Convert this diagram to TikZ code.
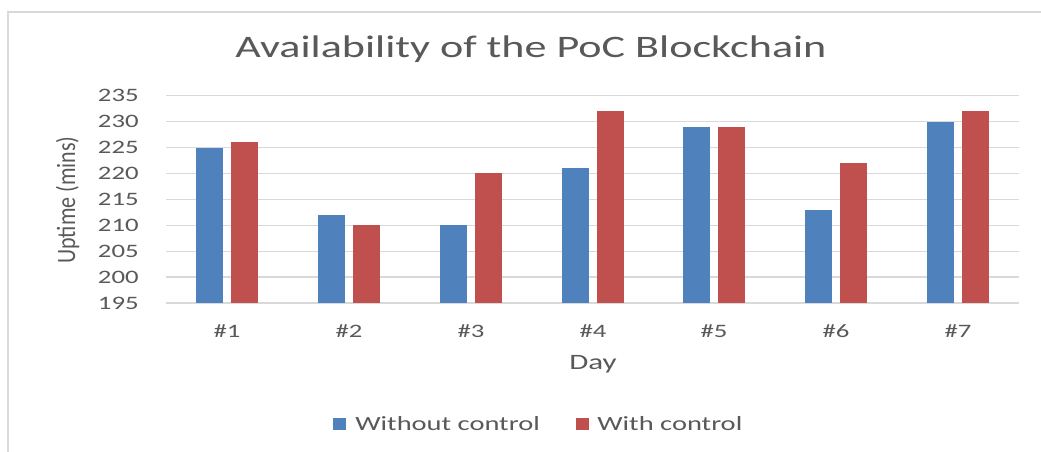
\documentclass[tikz,border=0pt]{standalone}
\usepackage{graphicx}
\usepackage{fontspec}
\setmainfont{Carlito}[FakeStretch=1.41]
\newfontfamily\uprightfont{Carlito}
\usepackage{tikz}
\usetikzlibrary{positioning}
\usepackage{xcolor}
\definecolor{avblue}{HTML}{4F81BD}
\definecolor{avred}{HTML}{C0504D}
\definecolor{avgrid}{HTML}{D9D9D9}
\definecolor{avtext}{HTML}{595959}
\tikzset{
  framebox/.style={draw=avgrid,line width=0.8pt},
  gridline/.style={draw=avgrid,line width=0.7pt},
  barnocontrol/.style={fill=avblue},
  barcontrol/.style={fill=avred},
  charttitle/.style={text=avtext,font=\fontsize{17.8}{21}\selectfont,inner sep=0pt},
  axistitle/.style={text=avtext,font=\fontsize{12.5}{15}\selectfont,inner sep=0pt},
  ticklabel/.style={text=avtext,font=\fontsize{10.8}{13}\selectfont,inner sep=0pt},
  legendtext/.style={text=avtext,font=\fontsize{11.5}{13}\selectfont,inner sep=0pt},
  legendkey/.style={minimum width=0.26cm,minimum height=0.24cm,inner sep=0pt,draw=none}
}
\newcommand{\valy}[1]{303-(#1-195)*5.18}

\begin{document}
\begin{tikzpicture}[x=0.02cm,y=-0.02cm]
  \useasboundingbox (0,0) rectangle (1041,452);
  \fill[white] (0,0) rectangle (1041,452);
  \clip (0,0) rectangle (1041,452);
  \draw[framebox] (8,12) rectangle (1100,500);
  \node[charttitle,anchor=base] (title) at (531,58) {Availability of the PoC Blockchain};
  % grid and value axis
  \foreach \v in {195,200,...,235} {
    \draw[gridline] (166,{\valy{\v}}) -- (1019,{\valy{\v}});
    \node[ticklabel,anchor=east] (tick\v) at (139,{\valy{\v}}) {\v};
  }
  \node[axistitle,anchor=base,rotate=90] (ytitle) at (75,200)
    {\uprightfont\scalebox{1}[1.2]{Uptime (mins)}};
  % bars per day
  \foreach \i/\cx/\va/\vb in {1/227/225/226,2/349/212/210,3/471/210/220,
      4/593/221/232,5/714/229/229,6/836/213/222,7/958/230/232} {
    \fill[barnocontrol] (\cx-31,303) rectangle (\cx-4,{\valy{\va}});
    \fill[barcontrol] (\cx+4,303) rectangle (\cx+31,{\valy{\vb}});
    \node[ticklabel] (day\i) at (\cx,331) {\#\i};
  }
  \node[axistitle,anchor=base] (xtitle) at (593,370) {Day};
  % legend
  \node[legendkey,fill=avblue] (keynocontrol) at (339,424) {};
  \node[legendtext,anchor=base west] (txtnocontrol) at (355,430) {Without control};
  \node[legendkey,fill=avred] (keycontrol) at (582,424) {};
  \node[legendtext,anchor=base west] (txtcontrol) at (597,430) {With control};
\end{tikzpicture}
\end{document}
